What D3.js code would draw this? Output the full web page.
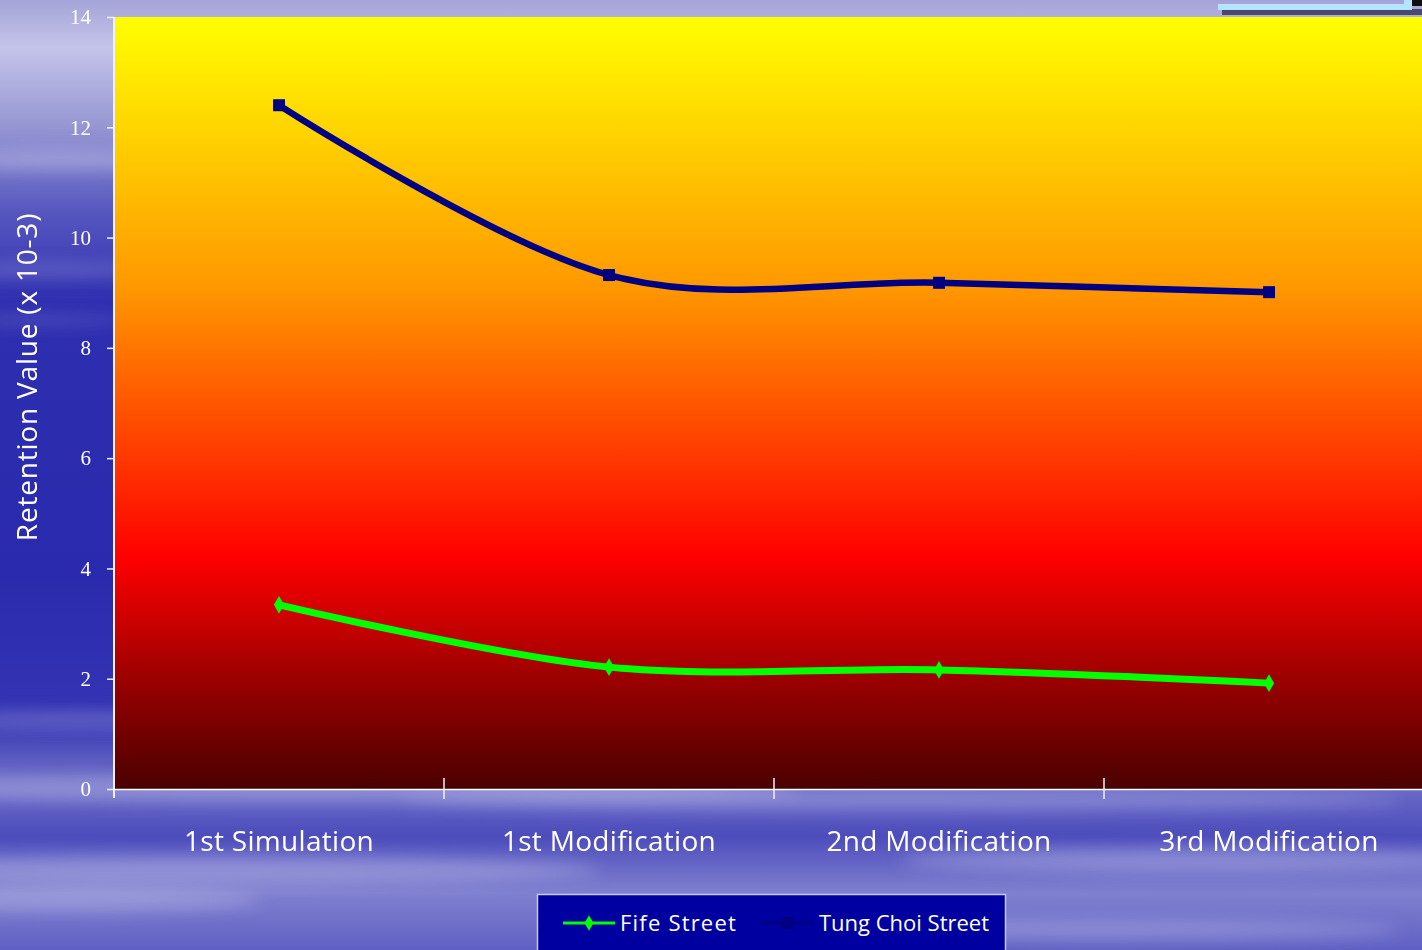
<!DOCTYPE html>
<html><head><meta charset="utf-8">
<script src="https://cdn.jsdelivr.net/npm/d3@7"></script>
<style>html,body{margin:0;padding:0;overflow:hidden;background:#4040b8}</style>
</head><body>
<script>
const categories = ["1st Simulation","1st Modification","2nd Modification","3rd Modification"];
const fifeStreet = [3.34, 2.21, 2.16, 1.92];
const tungChoiStreet = [12.40, 9.32, 9.18, 9.01];
const yTicks = [0,2,4,6,8,10,12,14];
const seriesNames = ["Fife Street","Tung Choi Street"];

const W = 1422, H = 950;
const svg = d3.select("body").append("svg").attr("width",W).attr("height",H);
const defs = svg.append("defs");

// background sky
const bg = defs.append("linearGradient").attr("id","bg").attr("x1",0).attr("y1",0).attr("x2",0).attr("y2",1);
[[0,"#a4a4d8"],[0.05,"#c4c4ea"],[0.13,"#9898d4"],[0.22,"#5858c0"],[0.32,"#2e2eb0"],[0.6,"#2a2aae"],[0.76,"#3434b4"],[0.82,"#7070c8"],[0.88,"#4c4cbc"],[0.94,"#8080d0"],[1,"#6060c4"]]
  .forEach(([o,c])=>bg.append("stop").attr("offset",o).attr("stop-color",c));
svg.append("rect").attr("width",W).attr("height",H).attr("fill","url(#bg)");
// cloud streaks
const blur = defs.append("filter").attr("id","blur").attr("x","-50%").attr("y","-50%").attr("width","200%").attr("height","200%");
blur.append("feGaussianBlur").attr("stdDeviation",8);
const streaks = [[60,160,140,10,0.35],[40,270,120,6,0.25],[30,320,100,5,0.2],[80,720,160,8,0.3],[300,790,500,12,0.35],[900,800,500,10,0.3],[200,870,400,14,0.35],[1200,860,300,12,0.35],[60,900,200,12,0.3],[1100,930,300,10,0.3]];
svg.append("g").attr("filter","url(#blur)").selectAll("ellipse").data(streaks).join("ellipse")
  .attr("cx",d=>d[0]).attr("cy",d=>d[1]).attr("rx",d=>d[2]).attr("ry",d=>d[3])
  .attr("fill","#d8d8f4").attr("opacity",d=>d[4]);

// top-right box fragment
svg.append("rect").attr("x",1222).attr("y",9).attr("width",200).attr("height",6).attr("fill","#202040").attr("opacity",0.7);
svg.append("rect").attr("x",1218).attr("y",4).attr("width",186).attr("height",6).attr("fill","#b4e4ff");
svg.append("rect").attr("x",1404).attr("y",0).attr("width",8).attr("height",10).attr("fill","#b4e4ff");
svg.append("rect").attr("x",1412).attr("y",0).attr("width",10).attr("height",6).attr("fill","#101010");

const x = d3.scaleBand().domain(categories).range([114,1434]);
const y = d3.scaleLinear().domain([0,14]).range([789,17]);

// plot area gradient
const pg = defs.append("linearGradient").attr("id","pg").attr("x1",0).attr("y1",0).attr("x2",0).attr("y2",1);
[[0,"#ffff00"],[0.35,"#ff9800"],[0.7,"#ff0000"],[0.85,"#a00000"],[1,"#4a0000"]]
  .forEach(([o,c])=>pg.append("stop").attr("offset",o).attr("stop-color",c));
svg.append("rect").attr("x",114).attr("y",y(14)).attr("width",W-114).attr("height",y(0)-y(14)).attr("fill","url(#pg)");

// axes
const yAxis = svg.append("g").attr("transform","translate(114,0)")
  .call(d3.axisLeft(y).tickValues(yTicks).tickSize(7).tickPadding(16).tickFormat(d3.format("d")));
yAxis.select(".domain").attr("stroke","#f0f0f8").attr("stroke-width",2).attr("d","M0,17V798");
yAxis.selectAll(".tick line").attr("stroke","#f0f0f8").attr("stroke-width",1.5);
yAxis.selectAll(".tick text").attr("fill","#ffffff").attr("font-family","Liberation Serif").attr("font-size",21);

const xAxis = svg.append("g").attr("transform","translate(0,789)")
  .call(d3.axisBottom(x).tickSize(0).tickPadding(0).tickFormat(""));
xAxis.select(".domain").attr("stroke","#ffffff").attr("stroke-width",1.5);
xAxis.selectAll(".tick").remove();
const bounds = categories.map(c=>x(c)).concat([x(categories[3])+x.bandwidth()]);
svg.append("g").selectAll("line").data(bounds.slice(1,4)).join("line")
  .attr("x1",d=>d).attr("x2",d=>d).attr("y1",778).attr("y2",799).attr("stroke","#f0f0f8").attr("stroke-width",1.5);
svg.append("g").selectAll("text").data(categories).join("text")
  .attr("x",d=>x(d)+x.bandwidth()/2).attr("y",851).attr("text-anchor","middle")
  .attr("fill","#ffffff").attr("font-family","Open Sans").attr("font-size",28).attr("letter-spacing",0.3).text(d=>d);

svg.append("text").attr("transform","translate(37,377) rotate(-90)").attr("text-anchor","middle")
  .attr("fill","#ffffff").attr("font-family","Open Sans").attr("font-size",28).attr("letter-spacing",0.8).text("Retention Value (x 10-3)");

// lines
const cx = d=>x(d)+x.bandwidth()/2;
const line = d3.line().x((d,i)=>cx(categories[i])).y(d=>y(d)).curve(d3.curveCatmullRom.alpha(0));
svg.append("path").datum(tungChoiStreet).attr("d",line).attr("fill","none").attr("stroke","#000080").attr("stroke-width",6.5).attr("stroke-linejoin","round");
svg.append("g").selectAll("rect").data(tungChoiStreet).join("rect")
  .attr("x",(d,i)=>cx(categories[i])-6).attr("y",d=>y(d)-6).attr("width",12).attr("height",12).attr("fill","#000080");
svg.append("path").datum(fifeStreet).attr("d",line).attr("fill","none").attr("stroke","#00ff00").attr("stroke-width",7).attr("stroke-linejoin","round");
const diamond = d3.symbol().type(d3.symbolDiamond).size(90);
svg.append("g").selectAll("path").data(fifeStreet).join("path")
  .attr("transform",(d,i)=>`translate(${cx(categories[i])},${y(d)})`).attr("d",diamond).attr("fill","#00ff00");

// legend
const lg = svg.append("g");
lg.append("rect").attr("x",537.5).attr("y",894.5).attr("width",468).attr("height",70).attr("fill","#0000a0").attr("stroke","#c8c8e8").attr("stroke-width",1.5);
const li = [{x:563, color:"#00ff00", sym:"diamond", tx:620, ls:1.2},{x:761, color:"#000080", sym:"square", tx:819, ls:0}];
li.forEach((d,i)=>{
  lg.append("line").attr("x1",d.x).attr("x2",d.x+52).attr("y1",923).attr("y2",923).attr("stroke",d.color).attr("stroke-width",3);
  if(d.sym==="diamond") lg.append("path").attr("transform",`translate(${d.x+26},923)`).attr("d",d3.symbol().type(d3.symbolDiamond).size(70)).attr("fill",d.color);
  else lg.append("rect").attr("x",d.x+21).attr("y",917).attr("width",12).attr("height",12).attr("fill",d.color);
  lg.append("text").attr("x",d.tx).attr("y",931).attr("fill","#ffffff").attr("font-family","Open Sans").attr("font-size",22).attr("letter-spacing",d.ls).text(seriesNames[i]);
});
</script>
</body></html>
